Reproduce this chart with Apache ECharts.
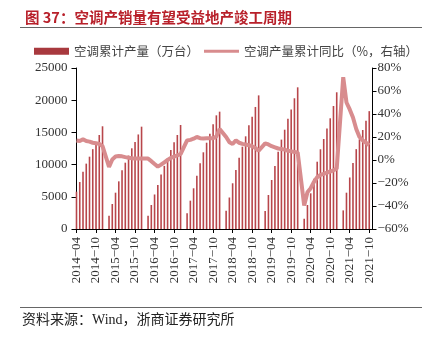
<!DOCTYPE html>
<html>
<head>
<meta charset="utf-8">
<script src="https://cdn.jsdelivr.net/npm/echarts@6/dist/echarts.min.js"></script>
<style>
  html, body { margin: 0; padding: 0; background: #fff; }
  #chart { width: 426px; height: 339px; }
</style>
</head>
<body>
<div id="chart"></div>
<script>
// Categories (monthly, 2014-04 .. 2021-11)
const months = [
  '2014-04','2014-05','2014-06','2014-07','2014-08','2014-09','2014-10','2014-11','2014-12',
  '2015-01','2015-02','2015-03','2015-04','2015-05','2015-06','2015-07','2015-08','2015-09','2015-10','2015-11','2015-12',
  '2016-01','2016-02','2016-03','2016-04','2016-05','2016-06','2016-07','2016-08','2016-09','2016-10','2016-11','2016-12',
  '2017-01','2017-02','2017-03','2017-04','2017-05','2017-06','2017-07','2017-08','2017-09','2017-10','2017-11','2017-12',
  '2018-01','2018-02','2018-03','2018-04','2018-05','2018-06','2018-07','2018-08','2018-09','2018-10','2018-11','2018-12',
  '2019-01','2019-02','2019-03','2019-04','2019-05','2019-06','2019-07','2019-08','2019-09','2019-10','2019-11','2019-12',
  '2020-01','2020-02','2020-03','2020-04','2020-05','2020-06','2020-07','2020-08','2020-09','2020-10','2020-11','2020-12',
  '2021-01','2021-02','2021-03','2021-04','2021-05','2021-06','2021-07','2021-08','2021-09','2021-10','2021-11'
];

// 空调累计产量（万台）
const prod2014 = [5800, 7300, 8900, 10150, 11230, 12400, 13430, 14600, 15950];
const prod2015 = [null, 2070, 3880, 5640, 7400, 9130, 10300, 11400, 12530, 13500, 14680, 15890];
const prod2016 = [null, 2050, 3730, 5360, 6830, 8450, 9800, 10980, 12270, 13460, 14600, 16150];
const prod2017 = [null, 2440, 4400, 6320, 8280, 10200, 11910, 13400, 14800, 16280, 17650, 18220];
const prod2018 = [null, 2820, 4890, 7100, 9160, 11070, 12780, 14390, 16100, 17440, 18950, 20750];
const prod2019 = [null, 2800, 5280, 7610, 9780, 12000, 13880, 15420, 17130, 18540, 20300, 22000];
const prod2020 = [null, 1600, 3730, 5540, 7820, 10450, 12380, 13980, 15590, 17190, 19100, 21230];
const prod2021 = [null, 2890, 5640, 8000, 10250, 12400, 13930, 15370, 16820, 18300, null];

// 空调产量累计同比（%）
const yoy2014 = [17, 16.5, 18, 16.5, 16, 15, 14.5, 14, 12];
const yoy2015 = [null, -6, 0.5, 3, 3.5, 3.2, 2.5, 2, 1.5, 1.2, 1.3, 1.4];
const yoy2016 = [null, 1.2, -1, -3.5, -5.8, -4, -2, 0, 1.8, 3, 4, 5.2];
const yoy2017 = [null, 17, 17.5, 18.5, 20, 19, 18.8, 19, 19, 19, 20.5, 27];
const yoy2018 = [null, 20, 15.5, 14, 17, 15, 14, 13.5, 12.8, 12, 10.5, 8];
const yoy2019 = [null, 14.5, 13.5, 12, 11, 10, 9.5, 9, 8, 7.5, 7, 6.5];
const yoy2020 = [null, -39.5, -28, -24.5, -19, -15, -13, -12, -11, -10, -9, -7.5];
const yoy2021 = [null, 72, 50, 44, 37, 27, 20, 17, 15, 13, null];

const leftTicks = [0, 5000, 10000, 15000, 20000, 25000];
const rightTicks = [-60, -40, -20, 0, 20, 40, 60, 80];

const production = [].concat(prod2014, prod2015, prod2016, prod2017, prod2018, prod2019, prod2020, prod2021);
const yoy = [].concat(yoy2014, yoy2015, yoy2016, yoy2017, yoy2018, yoy2019, yoy2020, yoy2021);

const serif = '"Liberation Serif", "Noto Sans CJK SC", serif';
const cjk = '"Noto Sans CJK SC", sans-serif';
const barColor = '#b8464b';
const lineColor = '#d88c8e';
const barName = '空调累计产量（万台）';
const lineName = '空调产量累计同比（%，右轴）';

const legendText = { color: '#444', fontSize: 12.5, fontFamily: cjk };

const chart = echarts.init(document.getElementById('chart'), null, { renderer: 'canvas' });
chart.setOption({
  animation: false,
  backgroundColor: '#fff',
  title: {
    text: '图 37：空调产销量有望受益地产竣工周期',
    left: 20, top: 5,
    textStyle: { color: '#b8202a', fontSize: 14.5, fontWeight: 'bold', fontFamily: cjk }
  },
  graphic: [
    { type: 'line', shape: { x1: 20, y1: 27.5, x2: 422, y2: 27.5 }, style: { stroke: '#666', lineWidth: 1 } },
    { type: 'line', shape: { x1: 20, y1: 307.5, x2: 422, y2: 307.5 }, style: { stroke: '#666', lineWidth: 1 } },
    { type: 'text', left: 22, top: 313, style: { text: '资料来源：Wind，浙商证券研究所', fill: '#222', font: '14px ' + serif } }
  ],
  legend: [
    {
      left: 34, top: 45, padding: 0,
      itemWidth: 35, itemHeight: 7, itemGap: 10,
      textStyle: legendText,
      data: [{ name: barName, icon: 'rect', itemStyle: { color: '#a8393e' } }]
    },
    {
      left: 204, top: 45, padding: 0,
      itemWidth: 35, itemHeight: 3, itemGap: 10,
      textStyle: legendText,
      data: [{ name: lineName, icon: 'rect', itemStyle: { color: lineColor } }]
    }
  ],
  grid: { left: 76.5, right: 53.5, top: 68, bottom: 110, containLabel: false },
  xAxis: {
    type: 'category',
    data: months,
    boundaryGap: false,
    axisLine: { lineStyle: { color: '#000', width: 1 } },
    axisTick: { show: true, interval: 5, length: 4, lineStyle: { color: '#000' } },
    axisLabel: {
      interval: 5, rotate: 90, margin: 8,
      color: '#333', fontSize: 13, fontFamily: serif,
      formatter: v => v.replace('-', '\u2212')
    },
    splitLine: { show: false }
  },
  yAxis: [
    {
      type: 'value', min: leftTicks[0], max: leftTicks[leftTicks.length - 1], interval: 5000,
      position: 'left',
      axisLine: { show: true, lineStyle: { color: '#000', width: 1 } },
      axisTick: { show: true, length: 5, lineStyle: { color: '#000' } },
      axisLabel: { color: '#333', fontSize: 13, fontFamily: serif, margin: 9, formatter: v => String(v) },
      splitLine: { show: false }
    },
    {
      type: 'value', min: rightTicks[0], max: rightTicks[rightTicks.length - 1], interval: 20,
      position: 'right',
      axisLine: { show: true, lineStyle: { color: '#000', width: 1 } },
      axisTick: { show: true, length: 4, lineStyle: { color: '#000' } },
      axisLabel: {
        color: '#333', fontSize: 13, fontFamily: serif, margin: 5,
        formatter: v => (v < 0 ? '\u2212' + Math.abs(v) : v) + '%'
      },
      splitLine: { show: false }
    }
  ],
  series: [
    {
      name: barName,
      type: 'bar',
      data: production,
      barWidth: 1.6,
      itemStyle: { color: barColor },
      yAxisIndex: 0
    },
    {
      name: lineName,
      type: 'line',
      data: yoy,
      yAxisIndex: 1,
      connectNulls: true,
      symbol: 'none',
      lineStyle: { color: lineColor, width: 4 },
      itemStyle: { color: lineColor },
      z: 3
    }
  ]
});
</script>
</body>
</html>
